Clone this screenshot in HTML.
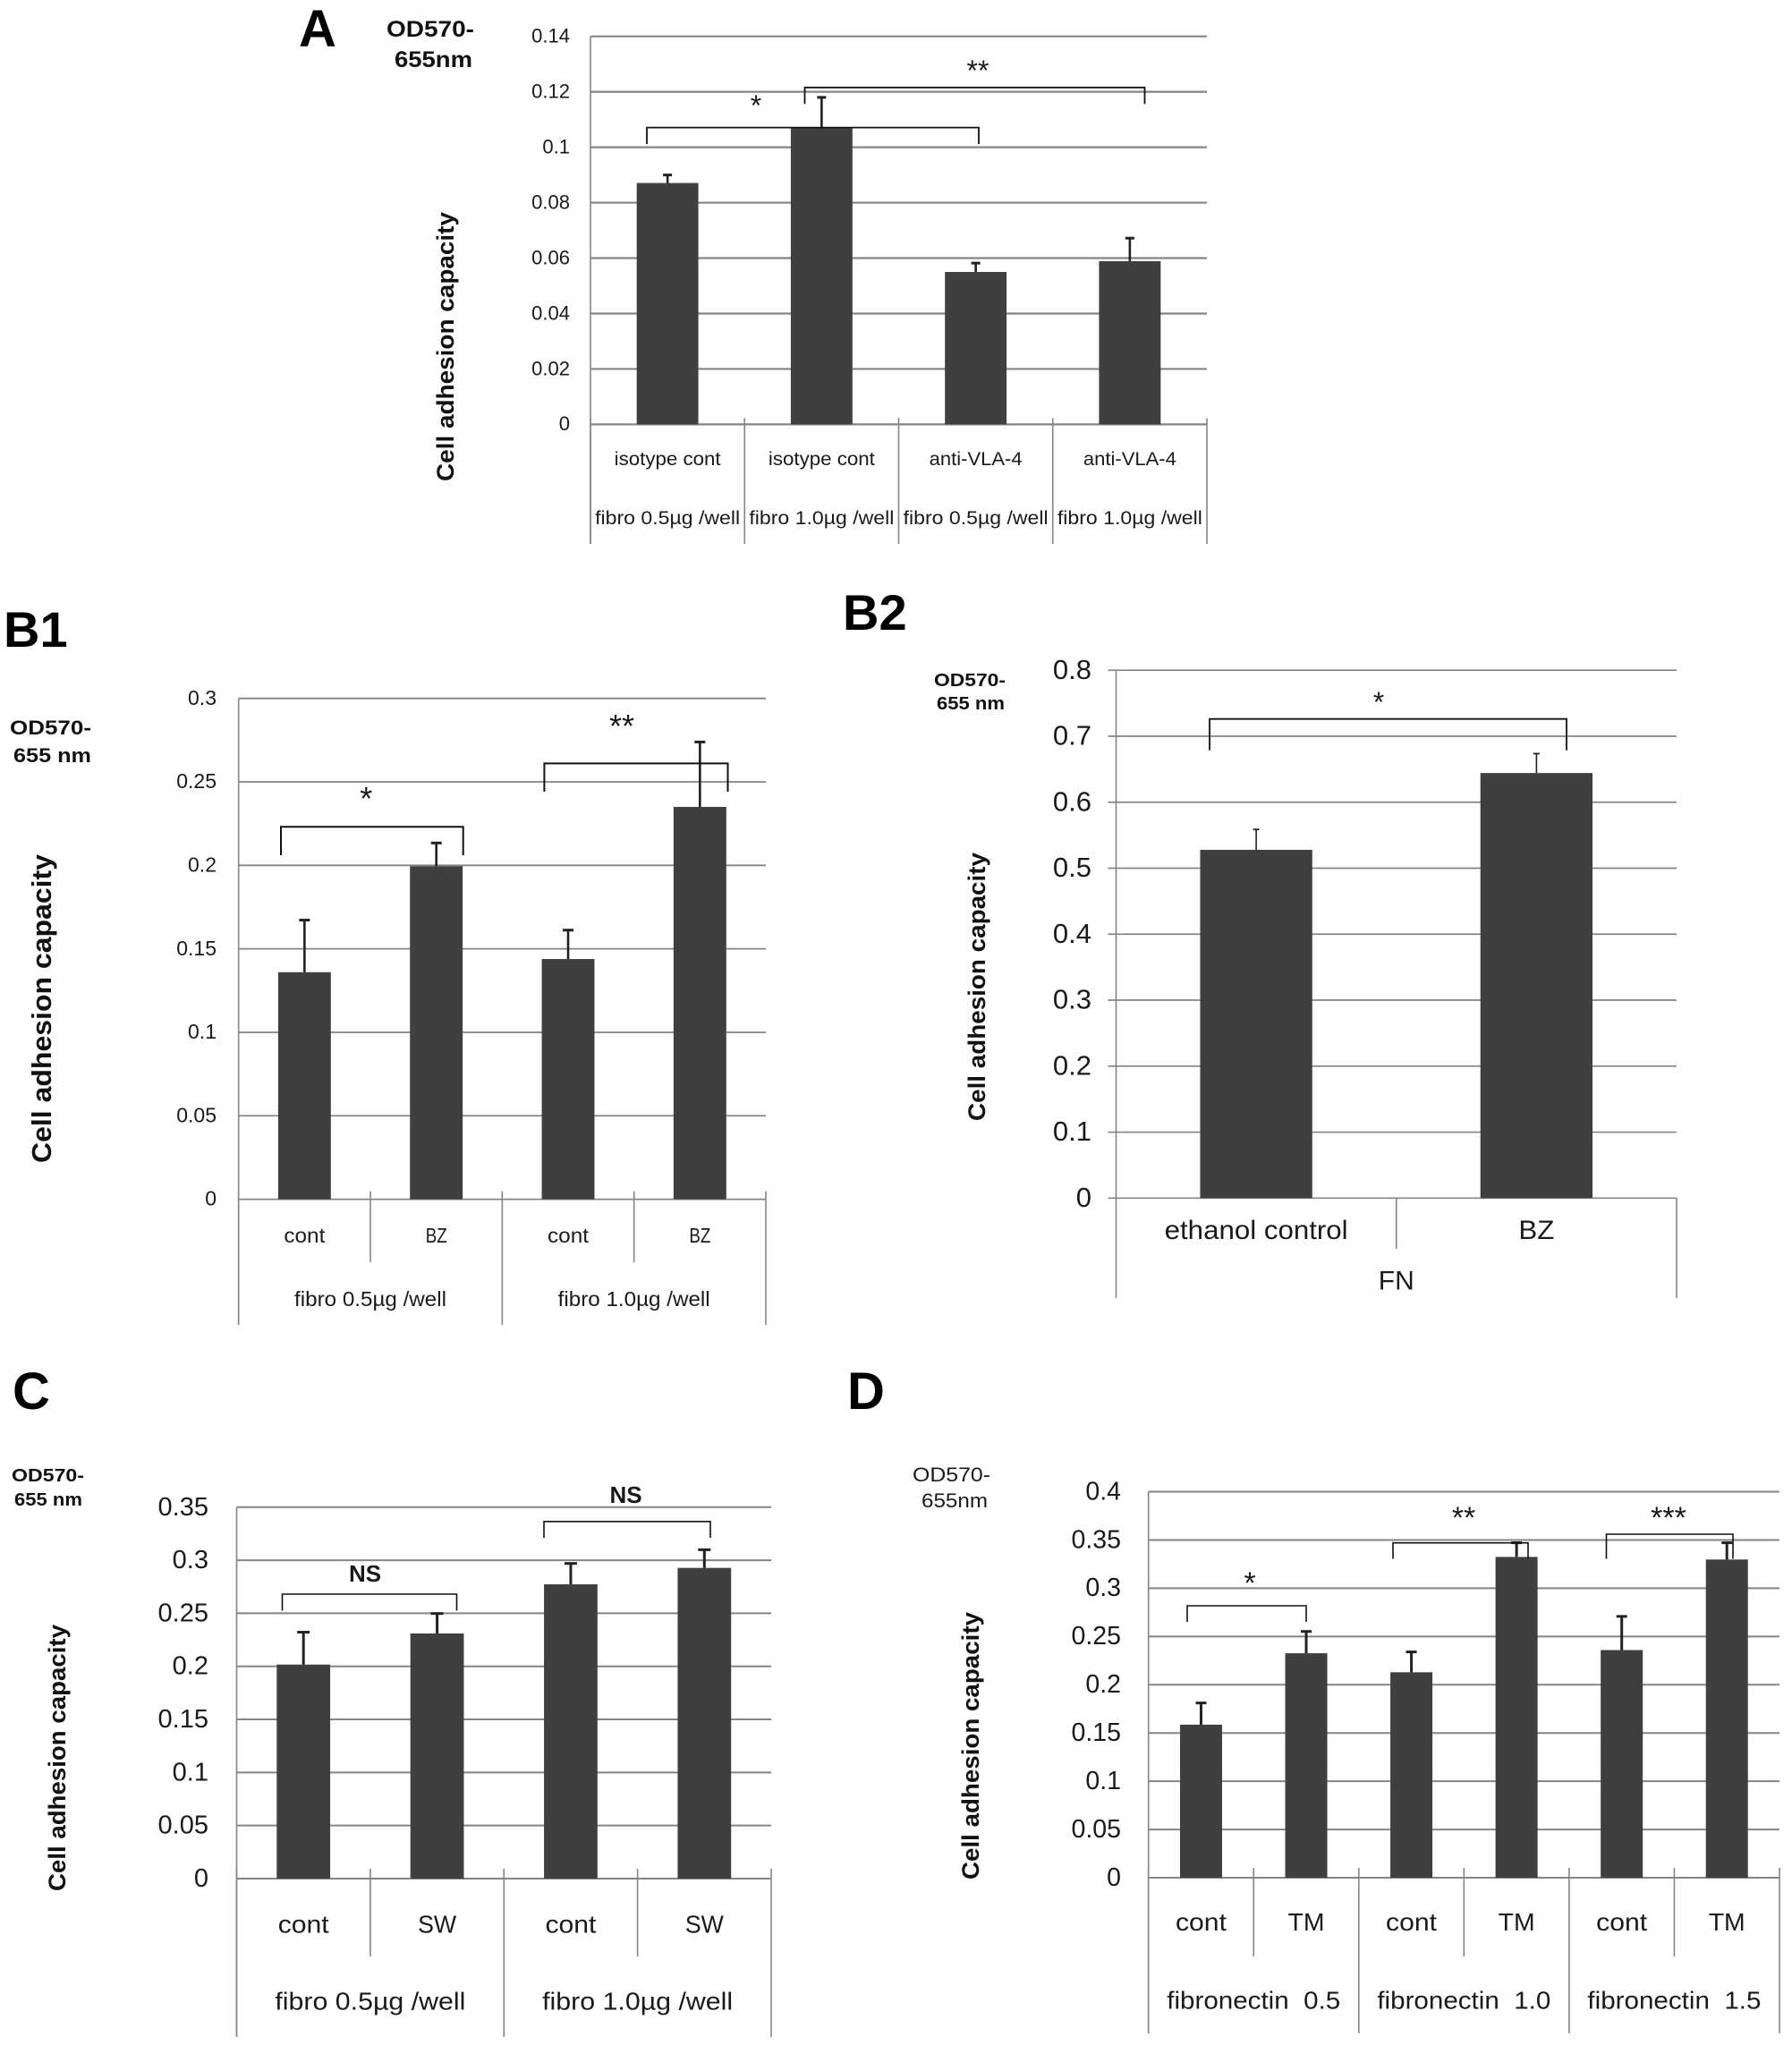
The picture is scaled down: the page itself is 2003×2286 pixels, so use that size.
<!DOCTYPE html>
<html lang="en">
<head>
<meta charset="utf-8">
<title>Cell adhesion capacity charts</title>
<style>
html,body{margin:0;padding:0;background:#fff}
svg{display:block}
text{font-family:"Liberation Sans",Arial,sans-serif;fill:#1a1a1a;white-space:pre}
.title{font-weight:bold;fill:#000}
.od{font-weight:bold;fill:#111}
.axt{font-weight:bold;fill:#111}
</style>
</head>
<body>
<svg id="figure" xmlns="http://www.w3.org/2000/svg" width="2003" height="2286" viewBox="0 0 2003 2286">
<rect x="0" y="0" width="2003" height="2286" fill="#ffffff"/>

<g id="panel-a">
  <text class="title" x="334" y="52" font-size="58">A</text>
  <text class="od" x="432" y="41" font-size="25" textLength="98" lengthAdjust="spacingAndGlyphs">OD570-</text>
  <text class="od" x="441" y="75" font-size="25" textLength="87" lengthAdjust="spacingAndGlyphs">655nm</text>
  <text class="axt" transform="translate(507,538) rotate(-90)" font-size="27" textLength="301" lengthAdjust="spacingAndGlyphs">Cell adhesion capacity</text>
</g>

<g id="panel-b1">
  <text class="title" x="4" y="723" font-size="56">B1</text>
  <text class="od" x="11" y="821" font-size="22" textLength="91" lengthAdjust="spacingAndGlyphs">OD570-</text>
  <text class="od" x="15" y="852" font-size="22" textLength="87" lengthAdjust="spacingAndGlyphs">655 nm</text>
  <text class="axt" transform="translate(57,1300) rotate(-90)" font-size="31" textLength="345" lengthAdjust="spacingAndGlyphs">Cell adhesion capacity</text>
</g>

<g id="panel-b2">
  <text class="title" x="942" y="704" font-size="56">B2</text>
  <text class="od" x="1044" y="767" font-size="20" textLength="80" lengthAdjust="spacingAndGlyphs">OD570-</text>
  <text class="od" x="1047" y="793" font-size="20" textLength="76" lengthAdjust="spacingAndGlyphs">655 nm</text>
  <text class="axt" transform="translate(1101,1253) rotate(-90)" font-size="27" textLength="300" lengthAdjust="spacingAndGlyphs">Cell adhesion capacity</text>
</g>

<g id="panel-c">
  <text class="title" x="14" y="1575" font-size="58">C</text>
  <text class="od" x="13" y="1656" font-size="20" textLength="81" lengthAdjust="spacingAndGlyphs">OD570-</text>
  <text class="od" x="16" y="1683" font-size="20" textLength="76" lengthAdjust="spacingAndGlyphs">655 nm</text>
  <text class="axt" transform="translate(73,2114) rotate(-90)" font-size="27" textLength="298" lengthAdjust="spacingAndGlyphs">Cell adhesion capacity</text>
</g>

<g id="panel-d">
  <text class="title" x="947" y="1575" font-size="58">D</text>
  <text x="1020" y="1656" font-size="22" textLength="87" lengthAdjust="spacingAndGlyphs">OD570-</text>
  <text x="1030" y="1685" font-size="22" textLength="74" lengthAdjust="spacingAndGlyphs">655nm</text>
  <text class="axt" transform="translate(1094,2101) rotate(-90)" font-size="27" textLength="299" lengthAdjust="spacingAndGlyphs">Cell adhesion capacity</text>
</g>
</svg>

<script>
// ----- Panel A data -----
const aTickLabels = ['0', '0.02', '0.04', '0.06', '0.08', '0.1', '0.12', '0.14'];
const aCategories = ['isotype cont', 'isotype cont', 'anti-VLA-4', 'anti-VLA-4'];
const aGroups = ['fibro 0.5µg /well', 'fibro 1.0µg /well', 'fibro 0.5µg /well', 'fibro 1.0µg /well'];
const aValues = [0.0871, 0.1069, 0.055, 0.0589];
const aErrorTops = [0.09, 0.118, 0.0582, 0.0672];

// ----- Panel B1 data -----
const b1TickLabels = ['0', '0.05', '0.1', '0.15', '0.2', '0.25', '0.3'];
const b1Categories = ['cont', 'BZ', 'cont', 'BZ'];
const b1Groups = ['fibro 0.5µg /well', 'fibro 1.0µg /well'];
const b1Values = [0.136, 0.1995, 0.1439, 0.235];
const b1ErrorTops = [0.1672, 0.2134, 0.1612, 0.2739];

// ----- Panel B2 data -----
const b2TickLabels = ['0', '0.1', '0.2', '0.3', '0.4', '0.5', '0.6', '0.7', '0.8'];
const b2Categories = ['ethanol control', 'BZ'];
const b2Groups = ['FN'];
const b2Values = [0.5278, 0.6442];
const b2ErrorTops = [0.5587, 0.6736];

// ----- Panel C data -----
const cTickLabels = ['0', '0.05', '0.1', '0.15', '0.2', '0.25', '0.3', '0.35'];
const cCategories = ['cont', 'SW', 'cont', 'SW'];
const cGroups = ['fibro 0.5µg /well', 'fibro 1.0µg /well'];
const cValues = [0.2017, 0.231, 0.2773, 0.2928];
const cErrorTops = [0.2322, 0.2498, 0.297, 0.3099];

// ----- Panel D data -----
const dTickLabels = ['0', '0.05', '0.1', '0.15', '0.2', '0.25', '0.3', '0.35', '0.4'];
const dCategories = ['cont', 'TM', 'cont', 'TM', 'cont', 'TM'];
const dGroups = ['fibronectin  0.5', 'fibronectin  1.0', 'fibronectin  1.5'];
const dValues = [0.1586, 0.2326, 0.2129, 0.3324, 0.2359, 0.3297];
const dErrorTops = [0.1811, 0.2552, 0.234, 0.3471, 0.2708, 0.3471];

const SVG_NS = 'http://www.w3.org/2000/svg';

function make(tag, attrs, parent) {
  const node = document.createElementNS(SVG_NS, tag);
  for (const k in attrs) node.setAttribute(k, attrs[k]);
  parent.appendChild(node);
  return node;
}

function drawPanel(panelId, data, layout) {
  const root = document.getElementById(panelId);
  const ticks = data.ticks.map(Number);
  const maxV = ticks[ticks.length - 1];
  const catW = (layout.x1 - layout.x0) / data.categories.length;
  const yOf = function (v) { return layout.y0 - (v / maxV) * (layout.y0 - layout.yTop); };
  const xOf = function (i) { return layout.x0 + (i + 0.5) * catW; };
  const grey = '#858585';

  // gridlines and tick labels
  data.ticks.forEach(function (label, i) {
    const v = Number(label);
    const grid = make('line', {x1: layout.x0 - (layout.gridOut || 0), x2: layout.x1, y1: yOf(v), y2: yOf(v), stroke: grey, 'stroke-width': layout.gridW}, root);
    
    
    const t = make('text', {x: layout.tickX, y: yOf(v) + layout.tickSize * 0.31, 'font-size': layout.tickSize, 'text-anchor': 'end'}, root);
    
    
    t.textContent = label;
  });

  // y axis
  const axis = make('line', {x1: layout.x0, x2: layout.x0, y1: layout.yTop, y2: layout.outerBottom, stroke: grey, 'stroke-width': 1.6}, root);
  
  

  // bars
  data.values.forEach(function (v, i) {
    const w = catW * 0.4;
    const bar = make('rect', {x: xOf(i) - w / 2, y: yOf(v), width: w, height: layout.y0 - yOf(v), fill: '#3f3f3f'}, root);
    
    
  });

  // error bars
  data.errorTops.forEach(function (e, i) {
    const stem = make('line', {x1: xOf(i), x2: xOf(i), y1: yOf(data.values[i]), y2: yOf(e), stroke: '#222', 'stroke-width': layout.stemW}, root);
    
    
    const cap = make('line', {x1: xOf(i) - layout.capW / 2, x2: xOf(i) + layout.capW / 2, y1: yOf(e), y2: yOf(e), stroke: '#222', 'stroke-width': layout.capH}, root);
    
    
  });

  // category separators
  const perGroup = data.categories.length / data.groups.length;
  for (let i = 0; i <= data.categories.length; i++) {
    const isOuter = i % perGroup === 0;
    if (i === 0 && !layout.tickAbove) continue;
    const sep = make('line', {x1: layout.x0 + i * catW, x2: layout.x0 + i * catW, y1: layout.y0 - layout.tickAbove, y2: isOuter ? layout.outerBottom : layout.innerBottom, stroke: grey, 'stroke-width': 1.6}, root);
    
    
  }

  // category labels
  data.categories.forEach(function (c, i) {
    const t = make('text', {x: xOf(i), y: layout.catBase, 'font-size': layout.catSize, 'text-anchor': 'middle', textLength: layout.catLens[i], lengthAdjust: 'spacingAndGlyphs'}, root);
    
    
    t.textContent = c;
  });

  // group labels
  const groupW = (layout.x1 - layout.x0) / data.groups.length;
  data.groups.forEach(function (g, i) {
    const t = make('text', {x: layout.x0 + (i + 0.5) * groupW, y: layout.groupBase, 'font-size': layout.groupSize, 'text-anchor': 'middle', textLength: layout.groupLen, lengthAdjust: 'spacingAndGlyphs'}, root);
    
    
    t.textContent = g;
  });

  // significance brackets
  layout.brackets.forEach(function (b) {
    const p = make('path', {d: 'M' + b.left + ' ' + b.bottom + 'V' + b.top + 'H' + b.right + 'V' + b.bottom, fill: 'none', stroke: '#111', 'stroke-width': layout.bracketW}, root);
    
    
    const isNS = b.mark === 'NS';
    const t = make('text', {x: b.markX, y: isNS ? b.markY + 9 : b.markY + layout.starSize * 0.47, 'font-size': isNS ? 26 : layout.starSize, 'text-anchor': 'middle', 'font-weight': isNS ? 'bold' : 'normal'}, root);
    
    
    t.textContent = b.mark;
  });
}

drawPanel('panel-a',
  {ticks: aTickLabels, categories: aCategories, groups: aGroups, values: aValues, errorTops: aErrorTops},
  {x0: 660, x1: 1349, yTop: 40.7, y0: 474.4, gridW: 2.2, tickX: 637, tickSize: 22, stemW: 2.6, capW: 10, capH: 3,
   outerBottom: 608, innerBottom: 608, tickAbove: 7, catBase: 520, catSize: 21, catLens: [119, 119, 104, 104],
   groupBase: 586, groupSize: 21, groupLen: 162, bracketW: 1.8, starSize: 32,
   brackets: [
     {left: 723, right: 1094, top: 142.6, bottom: 161, mark: '*', markX: 845, markY: 114},
     {left: 899.5, right: 1279.5, top: 97.8, bottom: 116.3, mark: '**', markX: 1093, markY: 75}
   ]});

drawPanel('panel-b1',
  {ticks: b1TickLabels, categories: b1Categories, groups: b1Groups, values: b1Values, errorTops: b1ErrorTops},
  {x0: 266.7, x1: 856, yTop: 780.7, y0: 1340.6, gridW: 1.8, tickX: 242, tickSize: 23, stemW: 2.6, capW: 12, capH: 3,
   outerBottom: 1481, innerBottom: 1411, tickAbove: 9, catBase: 1389, catSize: 23, catLens: [46, 24, 46, 24],
   groupBase: 1460, groupSize: 23, groupLen: 170, bracketW: 2, starSize: 36,
   brackets: [
     {left: 314, right: 517.7, top: 924.3, bottom: 956, mark: '*', markX: 409.3, markY: 888},
     {left: 608.4, right: 813.5, top: 853.4, bottom: 885, mark: '**', markX: 695, markY: 807}
   ]});

drawPanel('panel-b2',
  {ticks: b2TickLabels, categories: b2Categories, groups: b2Groups, values: b2Values, errorTops: b2ErrorTops},
  {x0: 1247.5, x1: 1874, yTop: 749.2, y0: 1339.3, gridW: 1.7, gridOut: 9, tickX: 1220, tickSize: 31, stemW: 1.6, capW: 7, capH: 1.8,
   outerBottom: 1451, innerBottom: 1396, tickAbove: 0, catBase: 1385, catSize: 30, catLens: [205, 40],
   groupBase: 1441.5, groupSize: 30, groupLen: 40, bracketW: 1.8, starSize: 32,
   brackets: [
     {left: 1352, right: 1751, top: 803.7, bottom: 838.7, mark: '*', markX: 1541, markY: 781}
   ]});

drawPanel('panel-c',
  {ticks: cTickLabels, categories: cCategories, groups: cGroups, values: cValues, errorTops: cErrorTops},
  {x0: 264.5, x1: 862, yTop: 1684.8, y0: 2100, gridW: 2, tickX: 233, tickSize: 29, stemW: 3, capW: 14, capH: 3,
   outerBottom: 2277, innerBottom: 2187, tickAbove: 11, catBase: 2160.5, catSize: 28, catLens: [57, 43, 57, 43],
   groupBase: 2246.5, groupSize: 28, groupLen: 213, bracketW: 1.6, starSize: 30,
   brackets: [
     {left: 315.5, right: 510.5, top: 1782, bottom: 1800.5, mark: 'NS', markX: 408, markY: 1759},
     {left: 608, right: 794, top: 1700.8, bottom: 1719, mark: 'NS', markX: 699.5, markY: 1671}
   ]});

drawPanel('panel-d',
  {ticks: dTickLabels, categories: dCategories, groups: dGroups, values: dValues, errorTops: dErrorTops},
  {x0: 1283.7, x1: 1989, yTop: 1667.5, y0: 2099, gridW: 2, tickX: 1253, tickSize: 28.5, stemW: 3, capW: 12, capH: 3,
   outerBottom: 2273, innerBottom: 2187, tickAbove: 11, catBase: 2158, catSize: 28, catLens: [57, 41, 57, 41, 57, 41],
   groupBase: 2245.5, groupSize: 28, groupLen: 194, bracketW: 1.6, starSize: 34,
   brackets: [
     {left: 1327, right: 1460, top: 1795, bottom: 1813, mark: '*', markX: 1397, markY: 1765},
     {left: 1557, right: 1708, top: 1724.7, bottom: 1742.5, mark: '**', markX: 1636, markY: 1692},
     {left: 1795.5, right: 1937, top: 1715, bottom: 1742.5, mark: '***', markX: 1865, markY: 1692}
   ]});
</script>
</body>
</html>
